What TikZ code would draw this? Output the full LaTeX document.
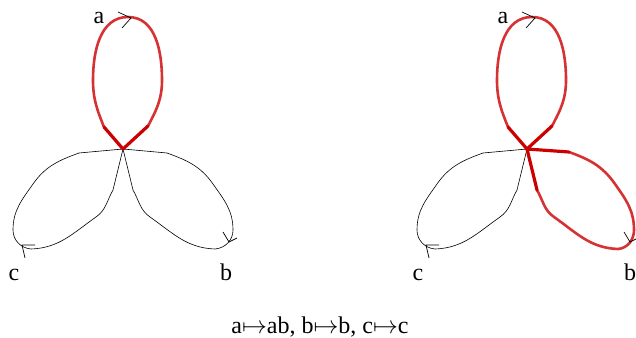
\documentclass[tikz,border=0pt]{standalone}
\usepackage{fontspec}
\setmainfont{Liberation Serif}
\definecolor{loopred}{RGB}{214,50,52}
\definecolor{stubred}{RGB}{204,0,0}

\begin{document}
\begin{tikzpicture}[x=1pt,y=1pt,
  blackloop/.style={draw=black,line width=0.6pt},
  redloop/.style={draw=loopred,line width=2.6pt},
  redstub/.style={draw=stubred,line width=3.2pt,line cap=round},
  barbline/.style={draw=black,line width=0.7pt},
  lab/.style={font=\fontsize{24}{28}\selectfont,anchor=base}]
\useasboundingbox (0,0) rectangle (636,-337);
% left bouquet
\coordinate (v1) at (123,-149);
\coordinate (a1s) at (104,-127);
\coordinate (a1e) at (148,-126);
\coordinate (b1s) at (167,-153);
\coordinate (b1e) at (133,-190);
\coordinate (c1s) at (113,-190);
\coordinate (c1e) at (79,-153);
\draw[blackloop] (v1) -- (b1s);
\draw[blackloop] (b1s) to[out=-20,in=125] (213,-184) to[out=-55,in=90] (233,-230) to[out=-90,in=5] (215,-249) to[out=178,in=-35] (150,-217) to[out=145,in=-60] (b1e);
\draw[blackloop] (b1e) -- (v1);
\draw[blackloop] (v1) -- (c1s);
\draw[blackloop] (c1s) to[out=240,in=35] (96,-217) to[out=215,in=2] (31,-249) to[out=175,in=270] (13,-230) to[out=90,in=235] (33,-184) to[out=55,in=200] (c1e);
\draw[blackloop] (c1e) -- (v1);
\draw[redloop] (a1s) to[out=112,in=270] (93,-80) to[out=90,in=180] (128,-17) to[out=0,in=90] (162,-80) to[out=270,in=62] (a1e);
\draw[redstub] (v1) -- (a1s);
\draw[redstub] (a1e) -- (v1);
% arrow heads
\coordinate (ta1) at (131,-18);
\coordinate (tb1) at (229,-242);
\coordinate (tc1) at (22,-245);
\draw[barbline] ([shift={(-13,6)}]ta1) -- (ta1) -- ([shift={(-9,-10)}]ta1);
\draw[barbline] ([shift={(-6,10)}]tb1) -- (tb1) -- ([shift={(8,4)}]tb1);
\draw[barbline] ([shift={(13,0)}]tc1) -- (tc1) -- ([shift={(3,-13)}]tc1);
\node[lab] (la1) at (99,-24) {a};
\node[lab] (lb1) at (226,-280) {b};
\node[lab] (lc1) at (14,-280) {c};
% right bouquet
\coordinate (v2) at (527,-149);
\coordinate (a2s) at (508,-127);
\coordinate (a2e) at (552,-126);
\coordinate (b2s) at (569,-152);
\coordinate (b2e) at (537,-190);
\coordinate (c2s) at (517,-190);
\coordinate (c2e) at (483,-153);
\draw[blackloop] (v2) -- (c2s);
\draw[blackloop] (c2s) to[out=240,in=35] (500,-217) to[out=215,in=2] (435,-249) to[out=175,in=270] (417,-230) to[out=90,in=235] (437,-184) to[out=55,in=200] (c2e);
\draw[blackloop] (c2e) -- (v2);
\draw[redloop] (b2s) to[out=-20,in=125] (615,-184) to[out=-55,in=90] (634,-230) to[out=-90,in=5] (618,-249) to[out=178,in=-35] (554,-217) to[out=145,in=-60] (b2e);
\draw[redloop] (a2s) to[out=112,in=270] (497,-80) to[out=90,in=180] (532,-17) to[out=0,in=90] (566,-80) to[out=270,in=62] (a2e);
\draw[redstub] (v2) -- (b2s);
\draw[redstub] (b2e) -- (v2);
\draw[redstub] (v2) -- (a2s);
\draw[redstub] (a2e) -- (v2);
% arrow heads
\coordinate (ta2) at (535,-18);
\coordinate (tb2) at (630,-242);
\coordinate (tc2) at (426,-245);
\draw[barbline] ([shift={(-13,6)}]ta2) -- (ta2) -- ([shift={(-9,-10)}]ta2);
\draw[barbline] ([shift={(-6,10)}]tb2) -- (tb2) -- ([shift={(8,4)}]tb2);
\draw[barbline] ([shift={(13,0)}]tc2) -- (tc2) -- ([shift={(3,-13)}]tc2);
\node[lab] (la2) at (503,-24) {a};
\node[lab] (lb2) at (630,-280) {b};
\node[lab] (lc2) at (418,-280) {c};
% the map
\node[lab] (map) at (320,-333) {a$\mapsto$ab, b$\mapsto$b, c$\mapsto$c};
\end{tikzpicture}
\end{document}
